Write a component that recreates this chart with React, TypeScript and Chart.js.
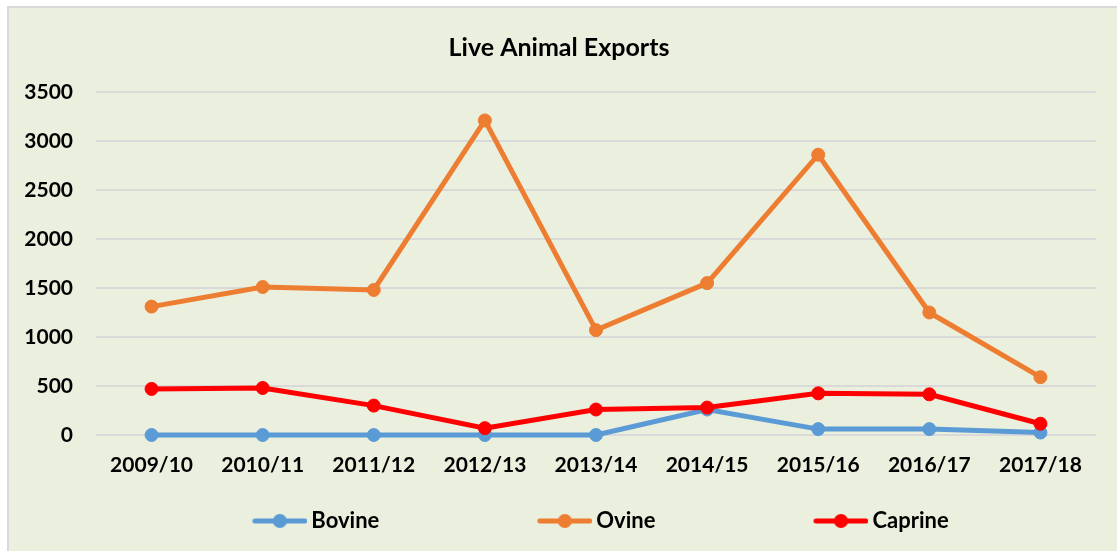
import React, { useEffect, useRef } from 'react';
import { Chart, registerables } from 'chart.js';

Chart.register(...registerables);

const categories = ['2009/10', '2010/11', '2011/12', '2012/13', '2013/14', '2014/15', '2015/16', '2016/17', '2017/18'];
const bovine = [0, 0, 0, 0, 0, 260, 60, 60, 25];
const ovine = [1310, 1510, 1480, 3210, 1070, 1550, 2860, 1250, 590];
const caprine = [470, 480, 300, 70, 260, 280, 425, 415, 115];
const seriesNames = ['Bovine', 'Ovine', 'Caprine'];
const seriesColors = ['#5B9BD5', '#ED7D31', '#FF0000'];
const yMin = 0;
const yMax = 3500;
const yStep = 500;

const FONT = 'Lato';
const BG = '#EBEFDE';
const LEGEND_BOX = 131;
const LEGEND_PAD = 75;
const LEGEND_FONT = 22;

function makeLegendSymbol(color: string, boxW: number) {
  const c = document.createElement('canvas');
  const w = boxW + 14;
  const h = 18;
  c.width = w;
  c.height = h;
  const ctx = c.getContext('2d')!;
  ctx.strokeStyle = color;
  ctx.lineWidth = 5;
  ctx.lineCap = 'round';
  ctx.beginPath();
  ctx.moveTo(w - 55 + 2.5, h / 2);
  ctx.lineTo(w - 2.5, h / 2);
  ctx.stroke();
  ctx.fillStyle = color;
  ctx.beginPath();
  ctx.arc(w - 27.5, h / 2, 7, 0, Math.PI * 2);
  ctx.fill();
  return c;
}

export default function App() {
  const ref = useRef<HTMLCanvasElement | null>(null);

  useEffect(() => {
    if (!ref.current) return;
    const values = [bovine, ovine, caprine];
    const symbols = seriesColors.map((c) => makeLegendSymbol(c, LEGEND_BOX));
    const chart = new Chart(ref.current, {
      type: 'line',
      data: {
        labels: categories,
        datasets: values.map((v, i) => ({
          label: seriesNames[i],
          data: v,
          borderColor: seriesColors[i],
          backgroundColor: seriesColors[i],
          pointBackgroundColor: seriesColors[i],
          pointBorderColor: seriesColors[i],
          borderWidth: 5,
          pointRadius: 6.5,
          pointBorderWidth: 1,
          tension: 0,
          fill: false,
          order: 2 - i,
          clip: false as any,
        })),
      },
      options: {
        animation: false,
        responsive: false,
        layout: { padding: { left: 13, right: 21, top: 0, bottom: 9 } },
        plugins: {
          title: {
            display: true,
            text: 'Live Animal Exports',
            color: '#000',
            font: { family: FONT, size: 25, weight: 'bold' },
            padding: { top: 24.5, bottom: 29.5 },
          },
          legend: {
            position: 'bottom',
            labels: {
              usePointStyle: true,
              pointStyleWidth: LEGEND_BOX,
              padding: LEGEND_PAD,
              color: '#000',
              font: { family: FONT, size: LEGEND_FONT, weight: 'bold' },
              generateLabels: (ch: any) => {
                const items = Chart.defaults.plugins.legend.labels.generateLabels(ch);
                items.sort((a: any, b: any) => a.datasetIndex - b.datasetIndex);
                return items.map((it: any) => ({ ...it, pointStyle: symbols[it.datasetIndex] }));
              },
            },
          },
          tooltip: { enabled: false },
        },
        scales: {
          x: {
            offset: true,
            grid: { display: false, drawTicks: false },
            border: { display: false },
            ticks: {
              color: '#000',
              mirror: true,
              padding: -43.1,
              maxRotation: 0,
              autoSkip: false,
              font: { family: FONT, size: 21, weight: 'bold' },
            },
            afterFit: (s: any) => {
              s.height = 0;
            },
          },
          y: {
            min: yMin,
            max: yMax,
            grid: { color: '#D9D9D9', lineWidth: 2, drawTicks: false },
            border: { display: false },
            ticks: {
              stepSize: yStep,
              color: '#000',
              padding: 23,
              font: { family: FONT, size: 21, weight: 'bold' },
              callback: (v: any) => String(v),
            },
            afterFit: (s: any) => {
              s.width = 74;
            },
          },
        },
      },
    });
    return () => chart.destroy();
  }, []);

  return (
    <div
      style={{
        position: 'absolute',
        left: 7,
        top: 6,
        width: 1110,
        height: 545,
        boxSizing: 'border-box',
        borderLeft: '2px solid #D9D9D9',
        borderTop: '2px solid #D9D9D9',
        background: BG,
      }}
    >
      <canvas ref={ref} width={1108} height={543} style={{ display: 'block' }} />
    </div>
  );
}
